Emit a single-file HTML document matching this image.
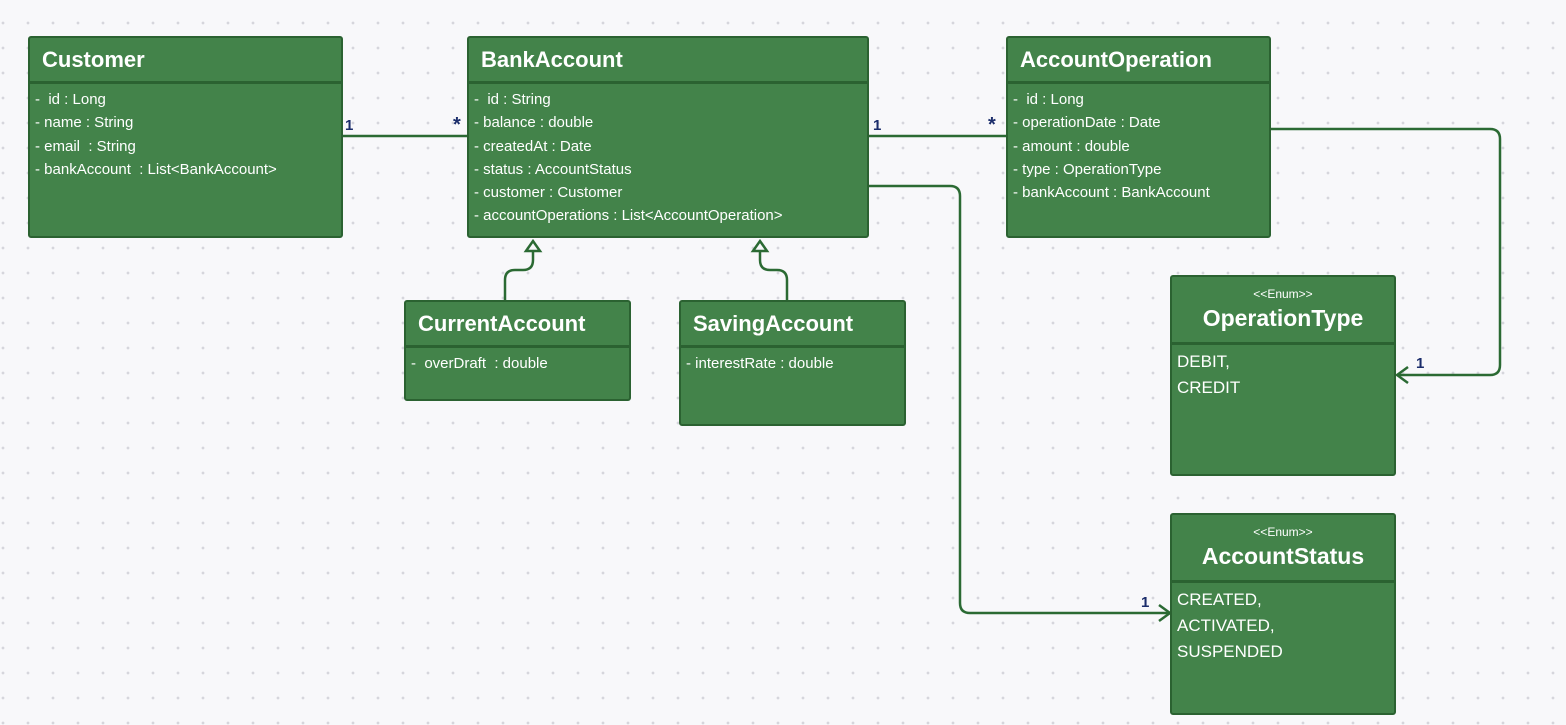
<!DOCTYPE html>
<html><head><meta charset="utf-8"><style>
body{margin:0;width:1566px;height:725px;overflow:hidden;background:#f8f8fa;font-family:"Liberation Sans","Noto Sans CJK SC",sans-serif;position:relative;
background-image:radial-gradient(circle,#d6d6dc 1.2px,transparent 1.6px);background-size:25px 25px;background-position:-9.5px 10.5px;}
.b{position:absolute;background:#43834a;border:2px solid #2b6231;border-radius:3px;box-sizing:border-box;color:#fff}
.h{border-bottom:3px solid #2b6231;box-sizing:border-box;font-weight:bold;font-size:22px;padding-left:12px;display:flex;align-items:center}
.a{padding:4px 0 0 5px;font-size:15px;line-height:23.3px;white-space:pre}
.e .h{flex-direction:column;justify-content:center;padding:0;font-size:23px}
.e .h small{font-size:12px;font-weight:normal;margin-bottom:4px}
.e .a{font-size:17px;line-height:26px;padding-left:5px}
svg{position:absolute;left:0;top:0}
</style></head><body>
<svg width="1566" height="725">
<g stroke="#2b6a33" stroke-width="2.5" fill="none">
<line x1="342" y1="136" x2="467" y2="136"/>
<line x1="868" y1="136" x2="1006" y2="136"/>
<path d="M1270 129 H1490 Q1500 129 1500 139 V365 Q1500 375 1490 375 H1397"/>
<path d="M1408 367 L1397 375 L1408 383"/>
<path d="M868 186 H950 Q960 186 960 196 V603 Q960 613 970 613 H1170"/>
<path d="M1159 605 L1170 613 L1159 621"/>
<path d="M505 300 V280 Q505 270 515 270 H523 Q533 270 533 260 V250"/>
<path d="M787 300 V280 Q787 270 777 270 H770 Q760 270 760 260 V250"/>
<path d="M526 251 L533 241 L540 251 Z"/>
<path d="M753 251 L760 241 L767 251 Z"/>
</g>
<g fill="#1b2d6b" font-weight="bold" font-size="15" font-family="Liberation Sans">
<text x="345" y="130">1</text><text x="453" y="131" font-size="20">*</text>
<text x="873" y="130">1</text><text x="988" y="131" font-size="20">*</text>
<text x="1416" y="368">1</text><text x="1141" y="607">1</text>
</g>
</svg>
<div class="b" style="left:28px;top:36px;width:315px;height:202px"><div class="h" style="height:46px">Customer</div><div class="a">-  id : Long
- name : String
- email  : String
- bankAccount  : List&lt;BankAccount&gt;</div></div>
<div class="b" style="left:467px;top:36px;width:402px;height:202px"><div class="h" style="height:46px">BankAccount</div><div class="a">-  id : String
- balance : double
- createdAt : Date
- status : AccountStatus
- customer : Customer
- accountOperations : List&lt;AccountOperation&gt;</div></div>
<div class="b" style="left:1006px;top:36px;width:265px;height:202px"><div class="h" style="height:46px">AccountOperation</div><div class="a">-  id : Long
- operationDate : Date
- amount : double
- type : OperationType
- bankAccount : BankAccount</div></div>
<div class="b" style="left:404px;top:300px;width:227px;height:101px"><div class="h" style="height:46px">CurrentAccount</div><div class="a">-  overDraft  : double</div></div>
<div class="b" style="left:679px;top:300px;width:227px;height:126px"><div class="h" style="height:46px">SavingAccount</div><div class="a">- interestRate : double</div></div>
<div class="b e" style="left:1170px;top:275px;width:226px;height:201px"><div class="h" style="height:68px"><small>&lt;&lt;Enum&gt;&gt;</small>OperationType</div><div class="a">DEBIT,
CREDIT</div></div>
<div class="b e" style="left:1170px;top:513px;width:226px;height:202px"><div class="h" style="height:68px"><small>&lt;&lt;Enum&gt;&gt;</small>AccountStatus</div><div class="a">CREATED,
ACTIVATED,
SUSPENDED</div></div>
</body></html>
